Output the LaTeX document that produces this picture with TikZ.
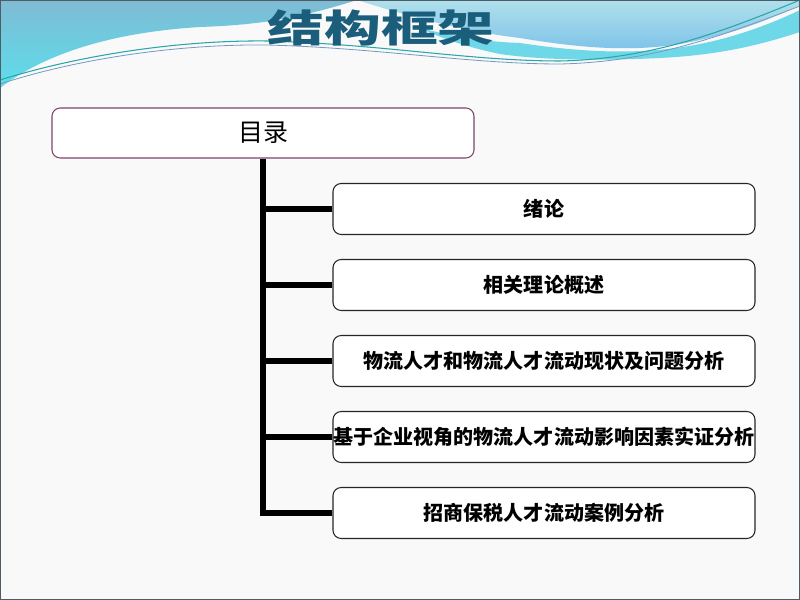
\documentclass[tikz,border=0pt]{standalone}
\usepackage{fontspec}
\newfontfamily\cjk{Noto Sans CJK SC}
\usepackage{xcolor}
\usetikzlibrary{positioning,calc}
\definecolor{slidebg}{HTML}{F9F9F9}
\definecolor{framegray}{HTML}{4E5C66}
\definecolor{leftblue}{HTML}{7FBBD4}
\definecolor{leftcyan}{HTML}{5CDEEC}
\definecolor{rightlight}{HTML}{B0E0EC}
\definecolor{rightblue}{HTML}{7CC2E8}
\definecolor{bandcyan}{HTML}{6ED8E8}
\definecolor{lineteal}{HTML}{2AA6A8}
\definecolor{lineblue}{HTML}{3A6FA8}
\definecolor{titleteal}{HTML}{1B5E7B}
\definecolor{boxpurple}{HTML}{7E4569}

\begin{document}
\begin{tikzpicture}[x=0.03cm,y=-0.03cm,
    topbox/.style={draw=boxpurple, line width=0.9pt, rounded corners=7pt, fill=white,
      minimum width=12.66cm, minimum height=1.5cm, font=\cjk\fontsize{21.3pt}{24pt}\selectfont},
    itembox/.style={draw=black!85, line width=0.9pt, rounded corners=7pt, fill=white,
      minimum width=12.66cm, minimum height=1.53cm, inner xsep=0pt,
      font=\cjk\bfseries\fontsize{17.1pt}{20pt}\selectfont},
    trunk/.style={line width=4.3pt}]
    \useasboundingbox (0,0) rectangle (800,600);
    \fill[slidebg] (0,0) rectangle (800,600);
    % Header waves
    \shade[top color=leftblue, bottom color=leftcyan] (0,0) -- (357,0)
        .. controls (300,18) and (260,25) .. (200,27)
        .. controls (120,32) and (50,50) .. (0,88) -- cycle;
    \shade[top color=rightlight, bottom color=rightblue] (357,0) -- (800,0) -- (800,5)
        .. controls (770,20) and (730,35) .. (680,44)
        .. controls (630,52) and (580,48) .. (520,38)
        .. controls (470,32) and (420,20) .. (357,0) -- cycle;
    \fill[bandcyan] (420,28) .. controls (460,38) and (490,42) .. (520,43)
        .. controls (580,52) and (640,56) .. (700,44)
        .. controls (740,36) and (775,22) .. (800,10) -- (800,32)
        .. controls (760,45) and (720,55) .. (660,58)
        .. controls (600,61) and (540,60) .. (500,54)
        .. controls (470,48) and (440,38) .. (420,28) -- cycle;
    \draw[lineteal, line width=0.9pt] (0,80) .. controls (80,55) and (180,40) .. (267,41)
        .. controls (380,44) and (470,61) .. (560,61)
        .. controls (650,59) and (720,33) .. (800,0);
    \draw[lineblue!70, line width=0.7pt] (0,84) .. controls (80,58) and (180,44) .. (267,45)
        .. controls (380,48) and (470,64) .. (560,64)
        .. controls (650,62) and (720,37) .. (800,6);
    % Title
    \node[text=titleteal, font=\cjk\bfseries\fontsize{44pt}{48pt}\selectfont] (title) at (381,28)
        {\scalebox{1.1}[0.74]{结构框架}};
    % Tree
    \node[topbox] (toc) at (263,133) {目录};
    \foreach \txt [count=\i] in {绪论, 相关理论概述, 物流人才和物流人才流动现状及问题分析,
        基于企业视角的物流人才流动影响因素实证分析, 招商保税人才流动案例分析}
        \node[itembox] (item\i) at (544,133+76*\i) {\txt};
    \draw[trunk] (toc.south) |- (item5.west);
    \foreach \i in {1,...,4}
        \draw[trunk] (toc.south |- item\i.west) -- (item\i.west);
    \draw[framegray, line width=1.6pt] (0,0) rectangle (800,600);
\end{tikzpicture}
\end{document}
